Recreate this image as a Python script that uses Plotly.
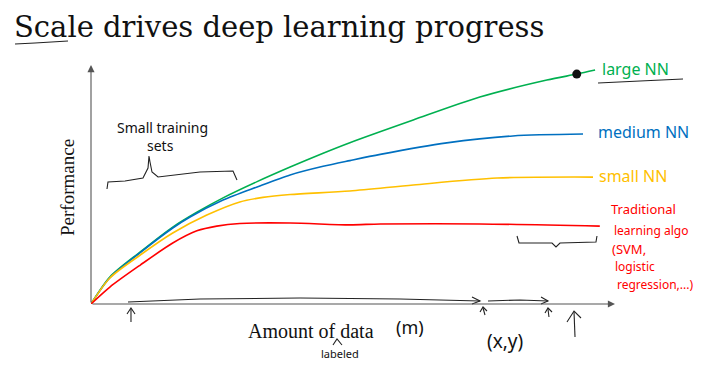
import plotly.graph_objects as go

# ---------------- data (normalised units: x = amount of data, y = performance, 0..100) -------------
large_x = [0, 3.6, 9.4, 15.6, 20.2, 25.2, 31.7, 38.0, 44.3, 49.4, 61.5, 74.2, 87.0, 92.7, 96.2]
large_y = [0, 11.3, 21.8, 32.2, 38.4, 44.4, 51.2, 57.3, 63.1, 67.5, 77.0, 86.6, 93.7, 96.2, 97.9]

medium_x = [0, 3.6, 9.4, 15.6, 18.9, 25.2, 31.7, 38.0, 44.3, 49.4, 55.2, 67.9, 80.5, 93.9]
medium_y = [0, 11.0, 21.5, 31.8, 36.4, 43.5, 49.0, 54.0, 57.6, 60.0, 62.6, 67.4, 70.3, 71.1]

small_x = [0, 3.6, 9.4, 15.6, 22.1, 28.4, 32.8, 38.0, 49.4, 61.5, 77.5, 95.8]
small_y = [0, 10.9, 20.5, 29.7, 37.2, 42.7, 44.6, 45.8, 47.3, 49.8, 52.7, 53.1]

trad_x = [0, 3.6, 9.4, 15.6, 20.2, 24.0, 28.4, 38.0, 49.4, 55.2, 74.2, 97.1]
trad_y = [0, 7.1, 16.3, 25.5, 30.6, 32.6, 33.7, 33.9, 33.1, 33.5, 33.5, 32.6]

highlight_x = [92.7]
highlight_y = [96.2]

series_names = ["large NN", "medium NN", "small NN", "Traditional learning algo"]
series_colors = ["#00B050", "#0070C0", "#FFC000", "#FF0000"]

title_text = "Scale drives deep learning progress"

# ---------------- layout geometry (pixels) ----------------
W, H = 714, 374
PL, PR, PT, PB = 91, 615, 65, 304   # plot area in pixels


def fx(px):
    return (px - PL) / (PR - PL)


def fy(py):
    return (PB - py) / (PB - PT)


def path(points):
    return "M " + " L ".join(f"{fx(x):.4f},{fy(y):.4f}" for x, y in points)


fig = go.Figure()
for xs, ys, name, col in zip([large_x, medium_x, small_x, trad_x],
                             [large_y, medium_y, small_y, trad_y],
                             series_names, series_colors):
    fig.add_trace(go.Scatter(x=xs, y=ys, mode="lines", name=name,
                             line=dict(color=col, width=1.6, shape="spline", smoothing=0.8),
                             hoverinfo="skip"))
fig.add_trace(go.Scatter(x=highlight_x, y=highlight_y, mode="markers",
                         marker=dict(color="#111", size=9), hoverinfo="skip"))

serif = "Liberation Serif, DejaVu Serif, serif"
title_font = "DejaVu Serif, serif"
hand = "Noto Sans, Lato, sans-serif"

ann = []
# axes with arrow heads
ann.append(dict(x=100, y=0, ax=0, ay=0, xref="x", yref="y", axref="x", ayref="y",
                showarrow=True, arrowhead=2, arrowsize=1.3, arrowwidth=1.1, arrowcolor="#555", text=""))
ann.append(dict(x=0, y=100, ax=0, ay=0, xref="x", yref="y", axref="x", ayref="y",
                showarrow=True, arrowhead=2, arrowsize=1.3, arrowwidth=1.1, arrowcolor="#555", text=""))


def text(px, py, s, size, color="#111", family=hand, angle=0, xanchor="center"):
    ann.append(dict(x=fx(px), y=fy(py), xref="paper", yref="paper", text=s, showarrow=False,
                    font=dict(size=size, color=color, family=family), textangle=angle,
                    xanchor=xanchor, yanchor="middle"))


# title and axis titles
text(12, 27, title_text, 29, "#111", title_font, xanchor="left")
text(67, 188, "Performance", 19, "#111", serif, angle=-90)
text(311, 331, "Amount of data", 20, "#111", serif)

# handwritten labels
text(600, 69, "large NN", 16, series_colors[0], xanchor="left")
text(596, 132, "medium NN", 16, series_colors[1], xanchor="left")
text(597, 176, "small NN", 16, series_colors[2], xanchor="left")
text(609, 209, "Traditional", 13, series_colors[3], xanchor="left")
text(612, 231, "learning algo", 12, series_colors[3], xanchor="left")
text(610, 249, "(SVM,", 13, series_colors[3], xanchor="left")
text(613, 266, "logistic", 12, series_colors[3], xanchor="left")
text(615, 284, "regression,...)", 12, series_colors[3], xanchor="left")
text(162, 127, "Small training", 14, "#111")
text(160, 145, "sets", 14, "#111")
text(410, 327, "(m)", 18, "#111")
text(505, 341, "(x,y)", 19, "#111")
text(340, 353, "labeled", 11, "#111")

# hand-drawn strokes
strokes = [
    # underline of "Scale" in the title
    [(15, 44), (35, 43), (68, 41)],
    # underline of "large NN"
    [(598, 83), (640, 81), (683, 79)],
    # brace under "Small training sets"
    [(107, 189), (108, 182), (125, 181), (143, 178), (148, 168), (149, 156),
     (150, 162), (152, 172), (158, 177), (200, 172), (233, 171), (237, 180)],
    # brace near traditional algorithms
    [(517, 236), (519, 243), (552, 243), (556, 247), (560, 243), (596, 242), (597, 236)],
    # long arrow along x axis
    [(128, 302), (200, 299), (300, 298), (400, 299), (480, 301)],
    [(472, 297), (480, 301), (472, 304)],
    # second arrow
    [(488, 301), (520, 300), (548, 301)],
    [(541, 297), (548, 301), (541, 304)],
    # small up arrows
    [(131, 322), (131, 309)], [(127, 314), (131, 308), (135, 314)],
    [(485, 315), (483, 308)], [(480, 312), (483, 307), (487, 311)],
    [(549, 317), (548, 309)], [(545, 313), (548, 308), (552, 312)],
    [(575, 337), (574, 312)], [(567, 322), (574, 311), (581, 318)],
    # caret above "labeled"
    [(333, 345), (337, 339), (342, 345)],
]
shapes = [dict(type="path", path=path(p), xref="paper", yref="paper",
               line=dict(color="#222", width=1.1)) for p in strokes]

fig.update_layout(
    width=W, height=H,
    margin=dict(l=PL, r=W - PR, t=PT, b=H - PB, pad=0),
    paper_bgcolor="white", plot_bgcolor="white",
    showlegend=False,
    xaxis=dict(range=[0, 100], visible=False, fixedrange=True),
    yaxis=dict(range=[0, 100], visible=False, fixedrange=True),
    annotations=ann, shapes=shapes,
)
fig.write_html("out.html", config=dict(displayModeBar=False),
               post_script="document.body.style.margin='0';document.body.style.overflow='hidden';")
